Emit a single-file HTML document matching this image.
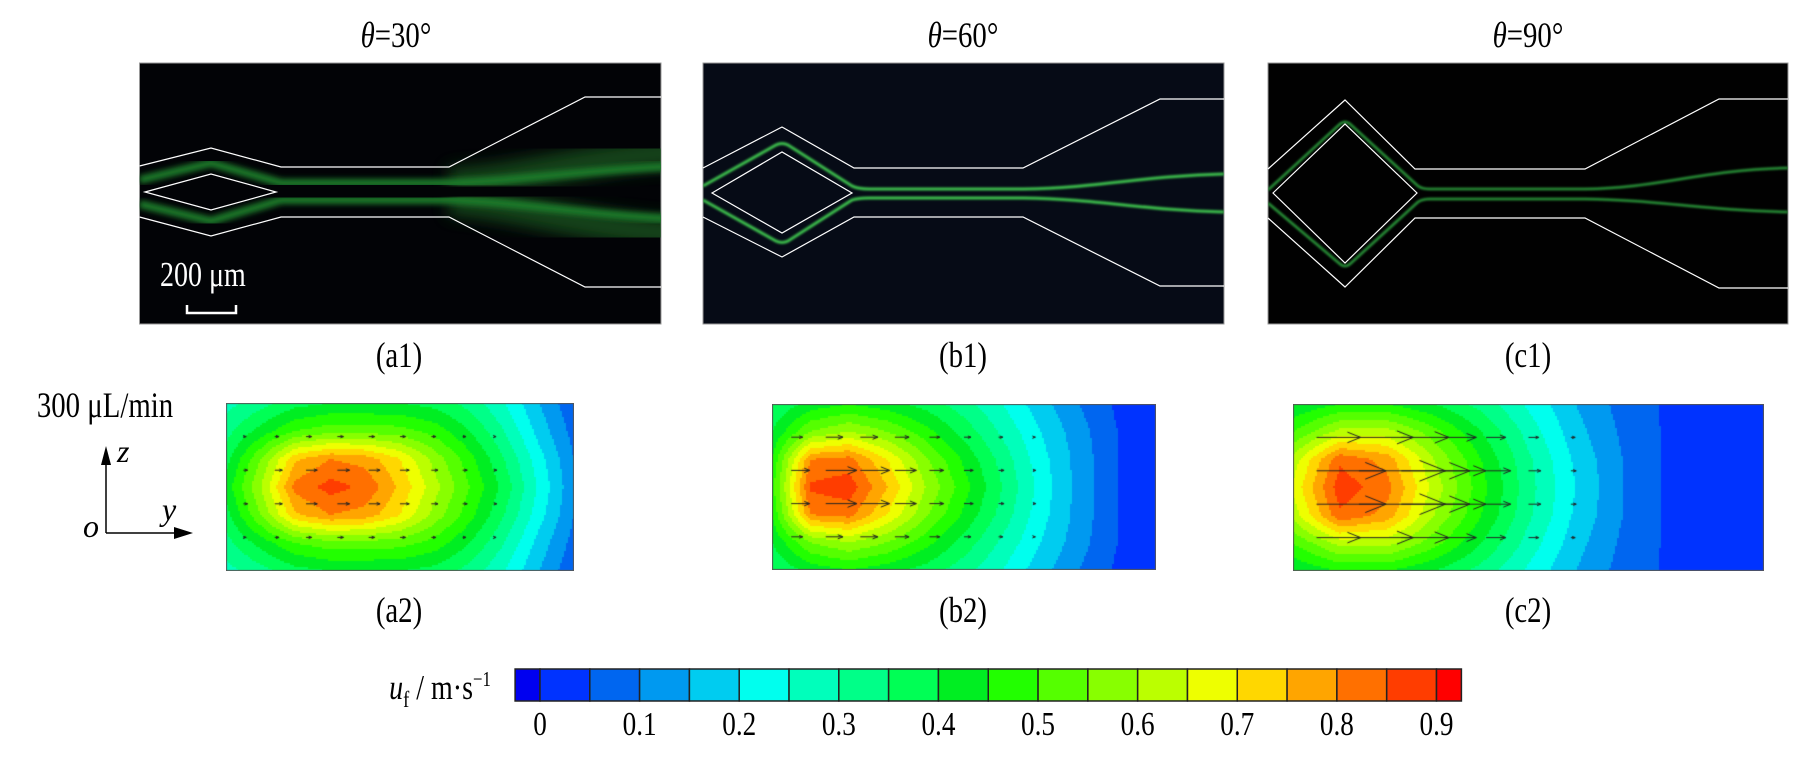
<!DOCTYPE html>
<html><head><meta charset="utf-8"><style>
body{margin:0;background:#fff;width:1794px;height:757px;position:relative;overflow:hidden;font-family:"Liberation Serif",serif;color:#000}
.t{position:absolute;font-size:36px;white-space:nowrap;transform:translate(-50%,-50%) scaleX(0.8)}
canvas{position:absolute}
</style></head><body>
<div class="t" style="left:396px;top:35px"><i>θ</i>=30°</div>
<div class="t" style="left:963px;top:35px"><i>θ</i>=60°</div>
<div class="t" style="left:1528px;top:35px"><i>θ</i>=90°</div>

<svg width="1794" height="757" style="position:absolute;left:0;top:0">
<defs>
<filter id="b3"><feGaussianBlur stdDeviation="3"/></filter>
<filter id="b6"><feGaussianBlur stdDeviation="8"/></filter>
<filter id="b1"><feGaussianBlur stdDeviation="1"/></filter>
<clipPath id="clipA"><rect x="139.5" y="63" width="521.5" height="261"/></clipPath>
<clipPath id="clipB"><rect x="703" y="63" width="521" height="261"/></clipPath>
<clipPath id="clipC"><rect x="1268" y="63" width="520" height="261"/></clipPath>
</defs>
<g>
<rect x="139.5" y="63" width="521.5" height="261" fill="#020306" stroke="#999" stroke-width="1"/>
<g clip-path="url(#clipA)">
<path d="M449 183 C520 180 580 158 680 152" stroke="#1a5e24" stroke-width="30" fill="none" filter="url(#b6)" opacity="0.7"/>
<path d="M449 200 C520 205 580 228 680 234" stroke="#1a5e24" stroke-width="30" fill="none" filter="url(#b6)" opacity="0.7"/>
<path d="M139.5 180 L211 163 L281 183 L449 183 C520 181 580 170 680 166" stroke="#1e7d2c" stroke-width="8" fill="none" filter="url(#b3)"/>
<path d="M139.5 204 L211 221 L281 200 L449 200 C520 202 580 215 680 219" stroke="#1e7d2c" stroke-width="8" fill="none" filter="url(#b3)"/>
</g>
<g stroke="#fff" stroke-width="1.2" fill="none">
<polyline points="139.5,166 211,148 281,167 449,167 585,97 661,97"/>
<polyline points="139.5,217 211,236 281,217 449,217 585,287 661,287"/>
<polygon points="145,192 211,174 276,192 211,210"/>
</g>
<text x="160" y="286" fill="#fff" font-size="35" font-family="Liberation Serif" transform="translate(160 0) scale(0.8 1) translate(-160 0)">200 μm</text>
<polyline points="187,305 187,313 236,313 236,305" stroke="#fff" stroke-width="2.5" fill="none"/>
</g>
<g>
<rect x="703" y="63" width="521" height="261" fill="#060b16" stroke="#999" stroke-width="1"/>
<g stroke="#3cc24e" stroke-width="3" fill="none" filter="url(#b1)" clip-path="url(#clipB)">
<path d="M703 186 L776 145 Q782 142 788 145 L852 186 Q858 189 870 189 L1023 189 C1100 188 1140 176 1224 174"/>
<path d="M703 200 L776 241 Q782 244 788 241 L852 200 Q858 198 870 198 L1023 198 C1100 199 1140 210 1224 212"/>
</g>
<g stroke="#fff" stroke-width="1.2" fill="none">
<polyline points="703,168 782,127 854,168 1023,168 1160,99 1224,99"/>
<polyline points="703,217 782,257 854,217 1023,217 1160,286 1224,286"/>
<polygon points="712,193 782,152 852,193 782,233"/>
</g>
</g>
<g>
<rect x="1268" y="63" width="520" height="261" fill="#010101" stroke="#999" stroke-width="1"/>
<g stroke="#2a9a3a" stroke-width="2.5" fill="none" filter="url(#b1)" clip-path="url(#clipC)">
<path d="M1268 190 L1340 124 Q1345 120 1350 124 L1418 186 Q1422 189 1430 189 L1585 189 C1660 188 1700 170 1788 168"/>
<path d="M1268 203 L1340 264 Q1345 268 1350 264 L1418 202 Q1422 199 1430 199 L1585 199 C1660 200 1700 210 1788 212"/>
</g>
<g stroke="#fff" stroke-width="1.2" fill="none">
<polyline points="1268,169 1345,100 1415,169 1585,169 1719,99 1788,99"/>
<polyline points="1268,218 1345,287 1415,218 1585,218 1719,288 1788,288"/>
<polygon points="1273,193 1345,124 1417,193 1345,263"/>
</g>
</g>
<g>
<line x1="106" y1="462" x2="106" y2="533" stroke="#000" stroke-width="1.5"/>
<polygon points="106,446 101,465 111,465" fill="#000"/>
<line x1="106" y1="533" x2="178" y2="533" stroke="#000" stroke-width="1.5"/>
<polygon points="193,533 174,527 174,539" fill="#000"/>
<text x="117" y="462" font-size="32" font-style="italic" font-family="Liberation Serif">z</text>
<text x="162" y="520" font-size="32" font-style="italic" font-family="Liberation Serif">y</text>
<text x="83" y="537" font-size="32" font-style="italic" font-family="Liberation Serif">o</text>
</g>
</svg>

<div class="t" style="left:399px;top:355px">(a1)</div>
<div class="t" style="left:963px;top:355px">(b1)</div>
<div class="t" style="left:1528px;top:355px">(c1)</div>
<div class="t" style="left:399px;top:610px">(a2)</div>
<div class="t" style="left:963px;top:610px">(b2)</div>
<div class="t" style="left:1528px;top:610px">(c2)</div>
<div class="t" style="left:105px;top:405px">300 μL/min</div>
<div class="t" style="left:440px;top:690px;font-size:35px"><i>u</i><sub style="font-size:23px">f</sub> / m·s<sup style="font-size:21px">−1</sup></div>

<canvas id="ca" width="348" height="168" style="left:226px;top:403px"></canvas>
<canvas id="cb" width="384" height="166" style="left:772px;top:404px"></canvas>
<canvas id="cc" width="471" height="167" style="left:1293px;top:404px"></canvas>
<svg id="cbar" width="1794" height="757" style="position:absolute;left:0;top:0"></svg>

<script>
// velocity grids (rows top->bottom, cols left->right), m/s
const gridA = [
[0.28,0.33,0.38,0.40,0.40,0.40,0.38,0.33,0.25,0.15,0.06],
[0.33,0.42,0.50,0.53,0.53,0.52,0.48,0.40,0.30,0.18,0.08],
[0.38,0.55,0.74,0.80,0.78,0.70,0.58,0.47,0.35,0.22,0.10],
[0.42,0.60,0.82,0.87,0.84,0.74,0.62,0.50,0.38,0.24,0.11],
[0.38,0.55,0.74,0.80,0.78,0.70,0.58,0.47,0.35,0.22,0.10],
[0.33,0.42,0.50,0.53,0.53,0.52,0.48,0.40,0.30,0.18,0.08],
[0.28,0.33,0.38,0.40,0.40,0.40,0.38,0.33,0.25,0.15,0.06]];
const gridB = [
[0.35,0.42,0.45,0.42,0.38,0.32,0.25,0.17,0.10,0.04,0.03],
[0.40,0.55,0.60,0.55,0.47,0.38,0.29,0.20,0.12,0.05,0.03],
[0.45,0.80,0.82,0.70,0.56,0.44,0.33,0.22,0.13,0.05,0.03],
[0.48,0.86,0.88,0.75,0.60,0.47,0.35,0.23,0.13,0.05,0.03],
[0.45,0.80,0.82,0.70,0.56,0.44,0.33,0.22,0.13,0.05,0.03],
[0.40,0.55,0.60,0.55,0.47,0.38,0.29,0.20,0.12,0.05,0.03],
[0.35,0.42,0.45,0.42,0.38,0.32,0.25,0.17,0.10,0.04,0.03]];
const gridC = [
[0.40,0.45,0.45,0.40,0.33,0.24,0.15,0.08,0.04,0.03,0.03],
[0.50,0.62,0.62,0.52,0.40,0.28,0.17,0.09,0.04,0.03,0.03],
[0.62,0.84,0.78,0.60,0.45,0.31,0.19,0.10,0.04,0.03,0.03],
[0.66,0.88,0.82,0.63,0.47,0.32,0.20,0.10,0.04,0.03,0.03],
[0.62,0.84,0.78,0.60,0.45,0.31,0.19,0.10,0.04,0.03,0.03],
[0.50,0.62,0.62,0.52,0.40,0.28,0.17,0.09,0.04,0.03,0.03],
[0.40,0.45,0.45,0.40,0.33,0.24,0.15,0.08,0.04,0.03,0.03]];
const levelColors = ["#0000f0","#0033ff","#0066f0","#0099f0","#00ccf0","#00ffee","#00ffbb","#00ff88","#00ff55","#00ee22","#22ff00","#55ff00","#88ff00","#bbff00","#eeff00","#ffd700","#ffa500","#ff7000","#ff3d00","#ff0000"];
const tickValues = [0,0.1,0.2,0.3,0.4,0.5,0.6,0.7,0.8,0.9];
const tickLabels = ["0","0.1","0.2","0.3","0.4","0.5","0.6","0.7","0.8","0.9"];
const arrowRows = [0.2,0.4,0.6,0.8];
const arrowCols = [0.05,0.14,0.23,0.32,0.41,0.50,0.59,0.68,0.77,0.86,0.95];

function sample(g,fx,fy){
  const R=g.length-1,C=g[0].length-1;
  const x=Math.min(Math.max(fx,0),1)*C,y=Math.min(Math.max(fy,0),1)*R;
  const i=Math.min(Math.floor(y),R-1),j=Math.min(Math.floor(x),C-1);
  const u=x-j,v=y-i;
  return g[i][j]*(1-u)*(1-v)+g[i][j+1]*u*(1-v)+g[i+1][j]*(1-u)*v+g[i+1][j+1]*u*v;
}
function levelIndex(v){return v<0?0:Math.min(levelColors.length-1,Math.floor(v/0.05)+1);}
function drawContour(id,g,scale){
  const c=document.getElementById(id),ctx=c.getContext('2d'),W=c.width,H=c.height,s=2;
  for(let y=0;y<H;y+=s)for(let x=0;x<W;x+=s){
    ctx.fillStyle=levelColors[levelIndex(sample(g,(x+1)/W,(y+1)/H))];
    ctx.fillRect(x,y,s,s);
  }
  ctx.strokeStyle="#222";ctx.lineWidth=1;
  arrowRows.forEach(fy=>arrowCols.forEach(fx=>{
    const v=sample(g,fx,fy),L=v*v*scale;if(L<2)return;
    const x0=fx*W,y0=fy*H,x1=x0+L,h=Math.max(3,L*0.3);
    ctx.beginPath();ctx.moveTo(x0,y0);ctx.lineTo(x1,y0);
    ctx.moveTo(x1-h,y0-h*0.4);ctx.lineTo(x1,y0);ctx.lineTo(x1-h,y0+h*0.4);ctx.stroke();
  }));
  ctx.strokeStyle="#555";ctx.strokeRect(0.5,0.5,W-1,H-1);
}
drawContour('ca',gridA,18);
drawContour('cb',gridB,45);
drawContour('cc',gridC,125);

const svg=document.getElementById('cbar'),NS="http://www.w3.org/2000/svg";
const x0=540,pxPerUnit=(1436.5-540)/0.9,cy=669,ch=32;
function xAt(v){return x0+v*pxPerUnit;}
levelColors.forEach((col,k)=>{
  const lo=k===0?-0.025:(k-1)*0.05,hi=k===0?0:(k===levelColors.length-1?0.925:k*0.05);
  const r=document.createElementNS(NS,'rect');
  r.setAttribute('x',xAt(lo));r.setAttribute('y',cy);r.setAttribute('width',xAt(hi)-xAt(lo));r.setAttribute('height',ch);
  r.setAttribute('fill',col);r.setAttribute('stroke','#222');r.setAttribute('stroke-width','1.5');
  
  
  svg.appendChild(r);
});
tickValues.forEach((v,k)=>{
  const t=document.createElementNS(NS,'text');
  t.setAttribute('x',xAt(v));t.setAttribute('y',735);t.setAttribute('text-anchor','middle');
  t.setAttribute('font-size','34');t.setAttribute('font-family','Liberation Serif');
  t.setAttribute('transform','translate('+xAt(v)+' 0) scale(0.8 1) translate('+(-xAt(v))+' 0)');
  t.textContent=tickLabels[k];
  
  
  svg.appendChild(t);
});
</script>
</body></html>
